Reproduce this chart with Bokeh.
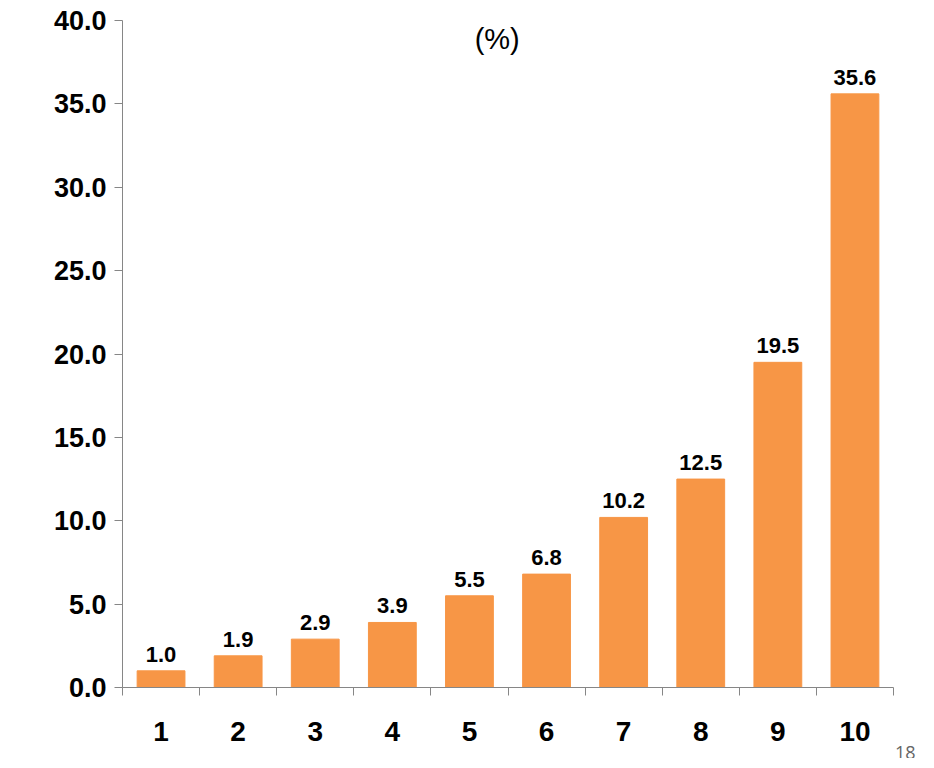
from bokeh.plotting import figure
from bokeh.models import ColumnDataSource, FixedTicker, Label, Range1d, CustomJSTickFormatter, Title
from bokeh.core.properties import value
from bokeh.embed import file_html
from bokeh.resources import INLINE

deciles = [1, 2, 3, 4, 5, 6, 7, 8, 9, 10]
shares = [1.0, 1.9, 2.9, 3.9, 5.5, 6.8, 10.2, 12.5, 19.5, 35.6]
y_ticks = [0, 5, 10, 15, 20, 25, 30, 35, 40]
page_number = "18"

source = ColumnDataSource(dict(x=deciles, top=shares,
                               label=[f"{v:.1f}" for v in shares]))

p = figure(width=918, height=758, output_backend="svg", toolbar_location=None,
           x_range=Range1d(0.5, 10.5), y_range=Range1d(0, 40),
           min_border_left=122, min_border_right=25,
           min_border_top=20, min_border_bottom=10)
p.outline_line_color = None
p.xgrid.visible = False
p.ygrid.visible = False

p.vbar(x="x", top="top", width=0.62, source=source, color="#F79646")
p.text(x="x", y="top", text="label", source=source, y_offset=-9,
       text_align="center", text_baseline="bottom", text_font_size="22px",
       text_font_style="bold", text_font=value("Liberation Sans"))

p.yaxis.ticker = FixedTicker(ticks=y_ticks)
p.yaxis.formatter = CustomJSTickFormatter(code="return tick.toFixed(1)")
p.yaxis.minor_tick_line_color = None
p.yaxis.major_tick_out = 8
p.yaxis.major_tick_in = 0

p.xaxis.ticker = FixedTicker(ticks=deciles, minor_ticks=[d - 0.5 for d in deciles] + [10.5])
p.xaxis.major_tick_out = 0
p.xaxis.major_tick_in = 0
p.xaxis.minor_tick_out = 8
p.xaxis.minor_tick_in = 0
p.xaxis.major_label_standoff = 26

for ax in (p.xaxis, p.yaxis):
    ax.axis_line_color = "#868686"
    ax.major_tick_line_color = "#868686"
    ax.minor_tick_line_color = "#868686"
    ax.major_label_text_font = "Liberation Sans"
    ax.major_label_text_font_style = "bold"
    ax.major_label_text_color = "black"
p.yaxis.major_label_text_font_size = "27px"
p.xaxis.major_label_text_font_size = "28px"
p.yaxis.major_label_standoff = 8

p.add_layout(Label(x=5.36, y=38.9, text="(%)", text_color="black",
                   text_font="Liberation Sans", text_font_size="29px",
                   text_align="center", text_baseline="middle"))
p.add_layout(Title(text=page_number, align="right", offset=-22, standoff=0,
                   text_font="Open Sans", text_font_size="18px", text_color="#666666",
                   text_font_style="normal"), "below")

open("out.html", "w").write(file_html(p, INLINE))
